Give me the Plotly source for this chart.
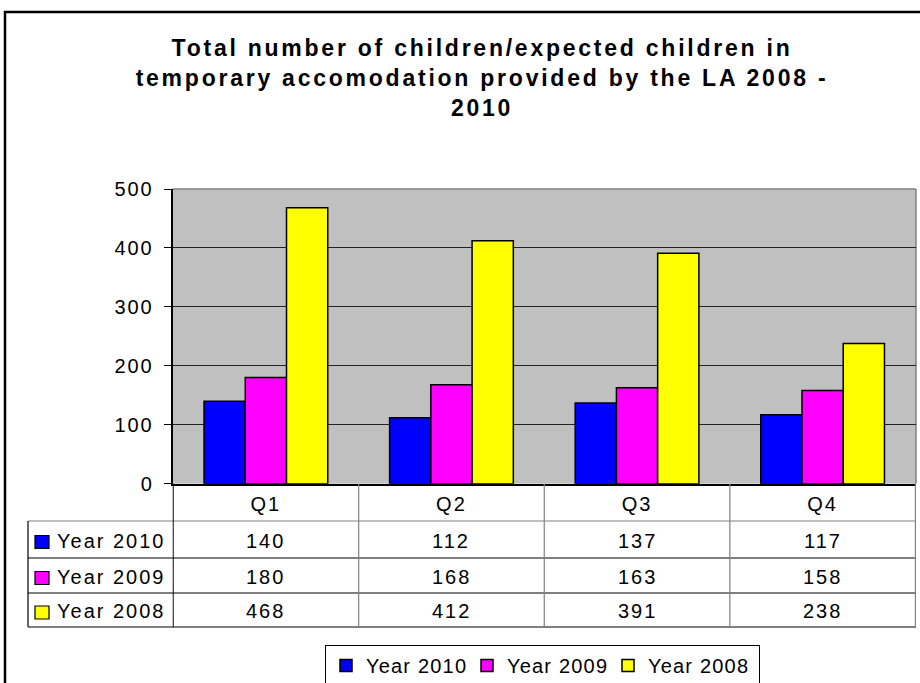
import plotly.graph_objects as go

W, H = 920, 683

# ---- data ----
quarters = ["Q1", "Q2", "Q3", "Q4"]
series_names = ["Year 2010", "Year 2009", "Year 2008"]
year_2010 = [140, 112, 137, 117]
year_2009 = [180, 168, 163, 158]
year_2008 = [468, 412, 391, 238]
y_ticks = [0, 100, 200, 300, 400, 500]
title_lines = [
    "Total number of children/expected children in",
    "temporary accomodation provided by the LA 2008 -",
    "2010",
]

colors = ["#0000FF", "#FF00FF", "#FFFF00"]
values = [year_2010, year_2009, year_2008]

FONT = "Liberation Sans, Arial, sans-serif"
FS = 20


def px(x):
    return x / W


def py(y):
    return 1 - y / H


fig = go.Figure()
for name, vals, c in zip(series_names, values, colors):
    fig.add_trace(go.Bar(
        x=quarters, y=vals, name=name,
        marker=dict(color=c, line=dict(color="black", width=1.5)),
    ))

# plot area geometry (pixels)
PL, PR, PT, PB = 172.5, 916, 189, 483.7

shapes = []
shapes.append(dict(type="line", xref="x domain", yref="y domain", x0=0, x1=1, y0=1, y1=1,
                   line=dict(color="#808080", width=1.5), layer="below"))
shapes.append(dict(type="line", xref="x domain", yref="y domain", x0=1, x1=1, y0=0, y1=1,
                   line=dict(color="#808080", width=1.5), layer="below"))

# data table geometry
T_LEFT = 28
row_lines = [521, 558, 593, 627]
TABLE_TOP = PB
for i, yl in enumerate(row_lines):
    shapes.append(dict(type="line", xref="paper", yref="paper",
                       x0=px(T_LEFT), x1=px(PR), y0=py(yl), y1=py(yl),
                       line=dict(color="#808080" if i == 0 else "black", width=1.2)))
for k in range(len(quarters) + 1):
    shapes.append(dict(type="line", xref="x", yref="paper",
                       x0=k - 0.5, x1=k - 0.5, y0=py(TABLE_TOP), y1=py(row_lines[-1]),
                       line=dict(color="black" if k == 0 else "#808080", width=1.2)))
shapes.append(dict(type="line", xref="paper", yref="paper",
                   x0=px(T_LEFT), x1=px(T_LEFT), y0=py(row_lines[0]), y1=py(row_lines[-1]),
                   line=dict(color="black", width=1.2)))

annotations = []
row_centers = [(row_lines[i] + row_lines[i + 1]) / 2 + 1 for i in range(3)]
for r, (name, vals, c) in enumerate(zip(series_names, values, colors)):
    yc = row_centers[r]
    shapes.append(dict(type="rect", xref="paper", yref="paper",
                       x0=px(35), x1=px(49), y0=py(yc - 5), y1=py(yc + 8),
                       fillcolor=c, line=dict(color="black", width=1.2)))
    annotations.append(dict(text=name, xref="paper", yref="paper", x=px(55), y=py(yc),
                            xanchor="left", yanchor="middle", align="left", showarrow=False,
                            font=dict(size=FS, family=FONT, color="black")))
    for q, v in zip(quarters, vals):
        annotations.append(dict(text=str(v), xref="x", yref="paper", x=q, y=py(yc),
                                xanchor="center", yanchor="middle", showarrow=False,
                                font=dict(size=FS, family=FONT, color="black")))

# outer chart border
shapes.append(dict(type="rect", xref="paper", yref="paper",
                   x0=px(5), x1=1.02, y0=-0.02, y1=py(12),
                   line=dict(color="black", width=2.5), fillcolor="rgba(0,0,0,0)"))

fig.update_layout(
    width=W, height=H,
    margin=dict(l=0, r=0, t=0, b=0, autoexpand=False),
    paper_bgcolor="white", plot_bgcolor="#C0C0C0",
    barmode="group", bargap=1.5 / 4.5, bargroupgap=0,
    font=dict(family=FONT, size=FS, color="black"),
    title=dict(text="<br>".join(title_lines), x=px(482), xanchor="center",
               y=py(56), yanchor="middle", yref="container",
               font=dict(size=23, family=FONT, color="black", weight="bold")),
    xaxis=dict(domain=[px(PL), px(PR)], showline=True, linecolor="black", linewidth=1.5,
               ticks="", showgrid=False, tickfont=dict(size=FS), ticklabelstandoff=2,
               fixedrange=True),
    yaxis=dict(domain=[py(PB), py(PT)], range=[0, 500], tickmode="array", tickvals=y_ticks,
               showline=True, linecolor="black", linewidth=1.5,
               ticks="outside", ticklen=7, tickcolor="black", tickwidth=1,
               showgrid=True, gridcolor="#222222", gridwidth=1, zeroline=False,
               tickfont=dict(size=FS), ticklabelstandoff=6, fixedrange=True),
    legend=dict(orientation="h", x=px(325), y=py(645), xanchor="left", yanchor="top",
                bordercolor="black", borderwidth=1, bgcolor="white",
                font=dict(size=FS, family=FONT), entrywidth=96, entrywidthmode="pixels",
                traceorder="normal", itemclick=False, itemdoubleclick=False),
    shapes=shapes,
    annotations=annotations,
)

post = ("var g=document.getElementById('{plot_id}');"
        "g.querySelectorAll('text').forEach(function(t){t.style.letterSpacing='0.1em';});"
        "g.querySelectorAll('.gtitle').forEach(function(t){t.style.letterSpacing='0.12em';});"
        "g.querySelectorAll('.legend text').forEach(function(t){t.style.letterSpacing='0.06em';});"
        "g.querySelectorAll('.legend rect.bg').forEach(function(r){"
        "r.setAttribute('width', parseFloat(r.getAttribute('width'))+10);});")
fig.write_html("out.html", post_script=post)
